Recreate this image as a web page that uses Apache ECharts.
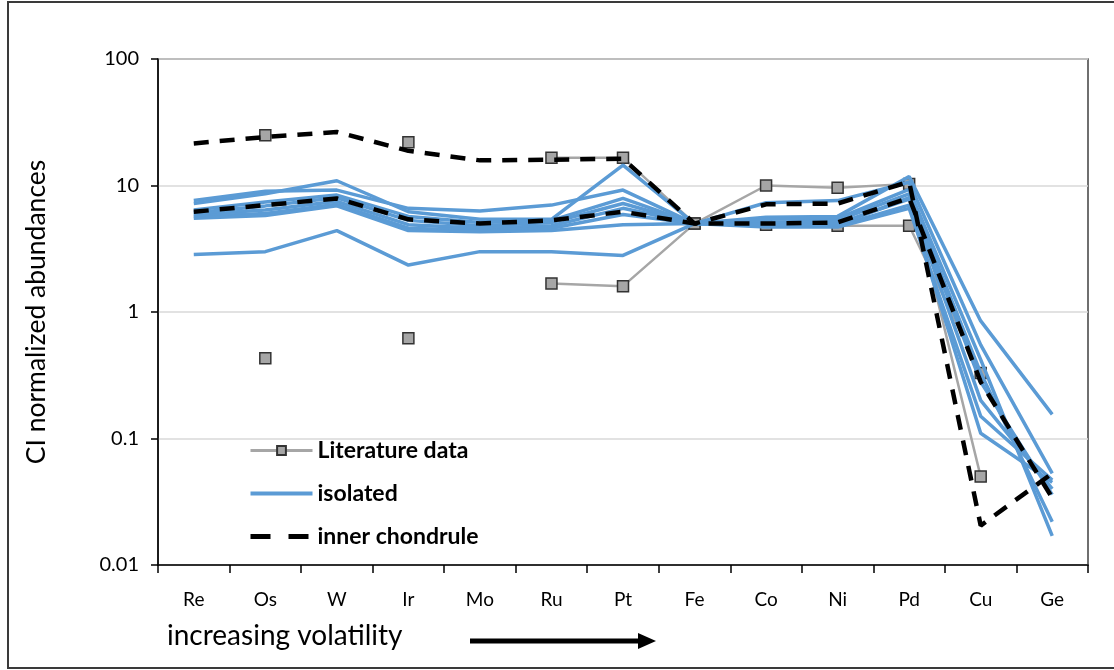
<!DOCTYPE html>
<html><head><meta charset="utf-8">
<script src="https://cdn.jsdelivr.net/npm/echarts@6/dist/echarts.min.js"></script>
<style>html,body{margin:0;padding:0;background:#fff}#c{width:1114px;height:670px}</style>
</head><body><div id="c"></div>
<script>
const categories = ['Re','Os','W','Ir','Mo','Ru','Pt','Fe','Co','Ni','Pd','Cu','Ge'];
const yTickLabels = ['0.01','0.1','1','10','100'];

// Literature data (gray, squares)
const litA = [null, 25, null, 22, null, 16.6, 16.6, 5.0, 10.0, 9.6, 10.3, 0.05, null];
const litB = [null, 0.43, null, 0.62, null, 1.68, 1.6, 5.0, 4.9, 4.8, 4.8, 0.33, null];

// isolated (blue)
const iso1 = [7.6, 9.0, 9.2, 6.6, 6.3, 7.0, 9.2, 5.0, 5.6, 5.7, 11.8, 0.85, 0.155];
const iso2 = [7.2, 8.6, 10.9, 6.2, 5.4, 5.4, 14.5, 5.0, 7.3, 7.6, 10.6, 0.55, 0.053];
const iso3 = [6.4, 7.4, 8.4, 5.7, 5.1, 5.3, 7.9, 5.0, 5.4, 5.5, 9.3, 0.42, 0.017];
const iso4 = [6.1, 6.9, 8.0, 5.3, 4.8, 5.1, 7.2, 5.0, 5.1, 5.3, 8.6, 0.33, 0.022];
const iso5 = [5.9, 6.4, 7.5, 4.9, 4.6, 4.8, 6.6, 5.0, 5.0, 5.0, 7.8, 0.2, 0.040];
const iso6 = [5.7, 6.0, 7.1, 4.6, 4.4, 4.6, 5.9, 5.0, 4.8, 4.8, 7.0, 0.11, 0.045];
const iso7 = [5.5, 5.8, 6.9, 4.4, 4.3, 4.4, 4.9, 5.0, 4.7, 4.7, 6.6, 0.15, 0.047];
const iso8 = [2.85, 3.0, 4.4, 2.35, 3.0, 3.0, 2.8, 5.0, 4.9, 4.9, 8.0, 0.28, 0.036];

// inner chondrule (black dashed)
const inner1 = [21.5, 24.2, 26.5, 18.8, 15.8, 16.0, 16.3, 5.0, 7.1, 7.2, 10.7, 0.0205, 0.053];
const inner2 = [6.2, 7.0, 7.9, 5.4, 5.0, 5.3, 6.2, 5.0, 5.0, 5.1, 8.0, 0.28, 0.034];

const litList = [litA, litB];
const isoList = [iso1, iso2, iso3, iso4, iso5, iso6, iso7, iso8];
const innerList = [inner1, inner2];

const FONT = 'Lato, "Open Sans", sans-serif';
const series = [];
litList.forEach(d => series.push({
  name: 'Literature data', type: 'line', data: d, z: 2,
  symbol: 'rect', symbolSize: 11, showSymbol: true, showAllSymbol: true,
  connectNulls: false, animation: false,
  lineStyle: {color: '#a6a6a6', width: 2.5},
  itemStyle: {color: '#a6a6a6', borderColor: '#333', borderWidth: 1.5}
}));
isoList.forEach(d => series.push({
  name: 'isolated', type: 'line', data: d, z: 3,
  symbol: 'none', animation: false,
  lineStyle: {color: '#5b9bd5', width: 3.5},
  itemStyle: {color: '#5b9bd5'}
}));
innerList.forEach(d => series.push({
  name: 'inner chondrule', type: 'line', data: d, z: 4,
  symbol: 'none', animation: false,
  lineStyle: {color: '#000', width: 4.5, type: [15, 11]},
  itemStyle: {color: '#000'}
}));

const chart = echarts.init(document.getElementById('c'), null, {renderer: 'canvas'});
chart.setOption({
  animation: false,
  backgroundColor: '#fff',
  grid: {left: 158, right: 26, top: 59, bottom: 105, show: true, borderColor: '#404040', borderWidth: 1.5, backgroundColor: 'transparent'},
  legend: {
    data: [
      {name: 'Literature data', lineStyle: {width: 3, color: '#a6a6a6'}},
      {name: 'isolated', itemStyle: {opacity: 0}, lineStyle: {width: 4, color: '#5b9bd5'}},
      {name: 'inner chondrule', itemStyle: {opacity: 0}, lineStyle: {width: 5, color: '#000', type: [20, 18]}}
    ],
    orient: 'vertical', left: 243, top: 434, itemWidth: 62, itemHeight: 11, itemGap: 20,
    textStyle: {fontFamily: FONT, fontSize: 23, fontWeight: 'bold', color: '#000'},
    selectedMode: false
  },
  xAxis: {
    type: 'category', data: categories, boundaryGap: true,
    axisLine: {lineStyle: {color: '#000', width: 1.5}},
    axisTick: {show: true, length: 8, lineStyle: {color: '#000', width: 1.5}},
    axisLabel: {fontFamily: FONT, fontSize: 19, color: '#000', margin: 25, interval: 0},
    splitLine: {show: false}
  },
  yAxis: {
    type: 'log', logBase: 10, min: 0.01, max: 100,
    name: 'CI normalized abundances', nameLocation: 'middle', nameGap: 108, nameRotate: 90,
    nameTextStyle: {fontFamily: FONT, fontSize: 26.5, color: '#000'},
    axisLine: {show: true, lineStyle: {color: '#000', width: 1.5}},
    axisTick: {show: true, length: 7, lineStyle: {color: '#000', width: 1.5}},
    axisLabel: {fontFamily: FONT, fontSize: 20, color: '#000', margin: 19,
      formatter: v => { const e = Math.round(Math.log10(v)); return yTickLabels[e + 2]; }},
    splitLine: {show: true, lineStyle: {color: '#d9d9d9', width: 1.5}},
    minorTick: {show: false}
  },
  series: series,
  graphic: [
    {type: 'rect', shape: {x: 8, y: 2, width: 1112, height: 666}, style: {fill: 'none', stroke: '#3a3a3a', lineWidth: 2}, z: 100, silent: true},
    {type: 'text', left: 167, top: 622, style: {text: 'increasing volatility', font: '28px ' + FONT, fill: '#000'}, z: 100},
    {type: 'line', shape: {x1: 470, y1: 641, x2: 642, y2: 641}, style: {stroke: '#000', lineWidth: 5}, z: 100},
    {type: 'polygon', shape: {points: [[638, 633], [656, 641], [638, 649]]}, style: {fill: '#000'}, z: 100}
  ]
});
</script></body></html>
